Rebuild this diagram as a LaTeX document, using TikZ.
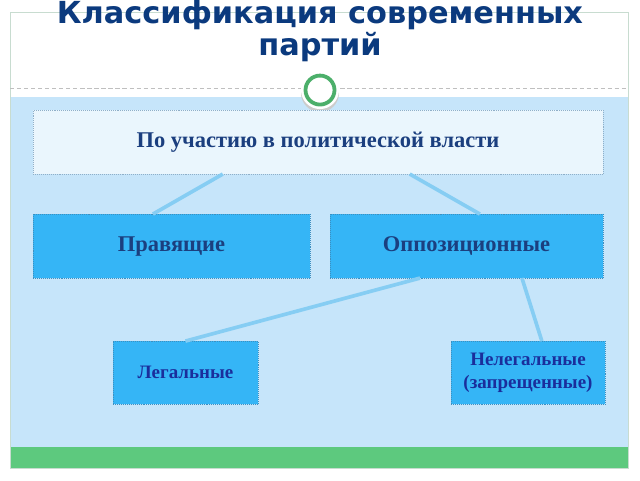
\documentclass[tikz,border=0pt]{standalone}
\usepackage{fontspec}
\setmainfont{Liberation Serif}
\newfontfamily\titlefont{DejaVu Sans}
\usetikzlibrary{calc}

\definecolor{titleblue}{HTML}{0B3A7E}
\definecolor{framegray}{HTML}{C8DCD0}
\definecolor{skyback}{HTML}{C6E5FA}
\definecolor{barred}{HTML}{5DC97E}
\definecolor{palebox}{HTML}{EAF6FD}
\definecolor{paleedge}{HTML}{8FAFC8}
\definecolor{boxblue}{HTML}{35B5F6}
\definecolor{boxedge}{HTML}{3C8FC0}
\definecolor{linkblue}{HTML}{86CDF3}
\definecolor{navy}{HTML}{1B3F7F}
\definecolor{deepblue}{HTML}{1A2E9C}
\definecolor{ringgreen}{HTML}{4CAF6A}

\begin{document}
\begin{tikzpicture}[x=0.025cm,y=-0.025cm,
  kind/.style={draw=boxedge,densely dotted,fill=boxblue,inner sep=0pt,outer sep=0pt,
    minimum height=1.6cm,align=center,font=\bfseries\fontsize{16}{18}\selectfont},
  small/.style={minimum height=1.575cm,text=deepblue,font=\bfseries\fontsize{13.5}{16.5}\selectfont},
  heading/.style={anchor=base,inner sep=0pt,text=titleblue,font=\titlefont\bfseries\fontsize{21.6}{23}\selectfont},
  link/.style={linkblue,line width=2.6pt}]
 % slide background
  \fill[white] (0,0) rectangle (640,480);
  \fill[skyback] (10,97) rectangle (628,447);
  \fill[barred] (10,447) rectangle (628,468);
  \draw[framegray] (10,12) rectangle (628,468);
  \draw[gray!50,densely dashed] (10,88) -- (628,88);
 % title and ring
  \node[heading] (title) at (320,23) {Классификация современных};
  \node[heading] (subtitle) at (320,55) {партий};
  \fill[gray!40] (320,93) circle (19);
  \fill[white] (320,90) circle (19);
  \draw[ringgreen,line width=2.7pt] (320,90) circle (14.5);
 % boxes
  \node[kind,fill=palebox,draw=paleedge,minimum width=14.25cm,text=navy] (base) at (318,142)
    {По участию в политической власти};
  \node[kind,minimum width=6.925cm,text=navy] (rule) at (171.5,246) {Правящие};
  \node[kind,minimum width=6.825cm,text=navy] (oppo) at (466.5,246) {Оппозиционные};
  \node[kind,small,minimum width=3.625cm] (legal) at (185.5,372.5) {Легальные};
  \node[kind,small,minimum width=3.85cm] (illegal) at (528,372.5) {Нелегальные\\(запрещенные)};
 % links
  \draw[link] ($(base.south west)!0.333!(base.south east)$) -- ($(rule.north west)!0.433!(rule.north east)$);
  \draw[link] ($(base.south west)!0.661!(base.south east)$) -- ($(oppo.north west)!0.549!(oppo.north east)$);
  \draw[link] ($(oppo.south west)!0.33!(oppo.south east)$) -- ($(legal.north west)!0.5!(legal.north east)$);
  \draw[link] ($(oppo.south west)!0.703!(oppo.south east)$) -- ($(illegal.north west)!0.59!(illegal.north east)$);
\end{tikzpicture}
\end{document}
